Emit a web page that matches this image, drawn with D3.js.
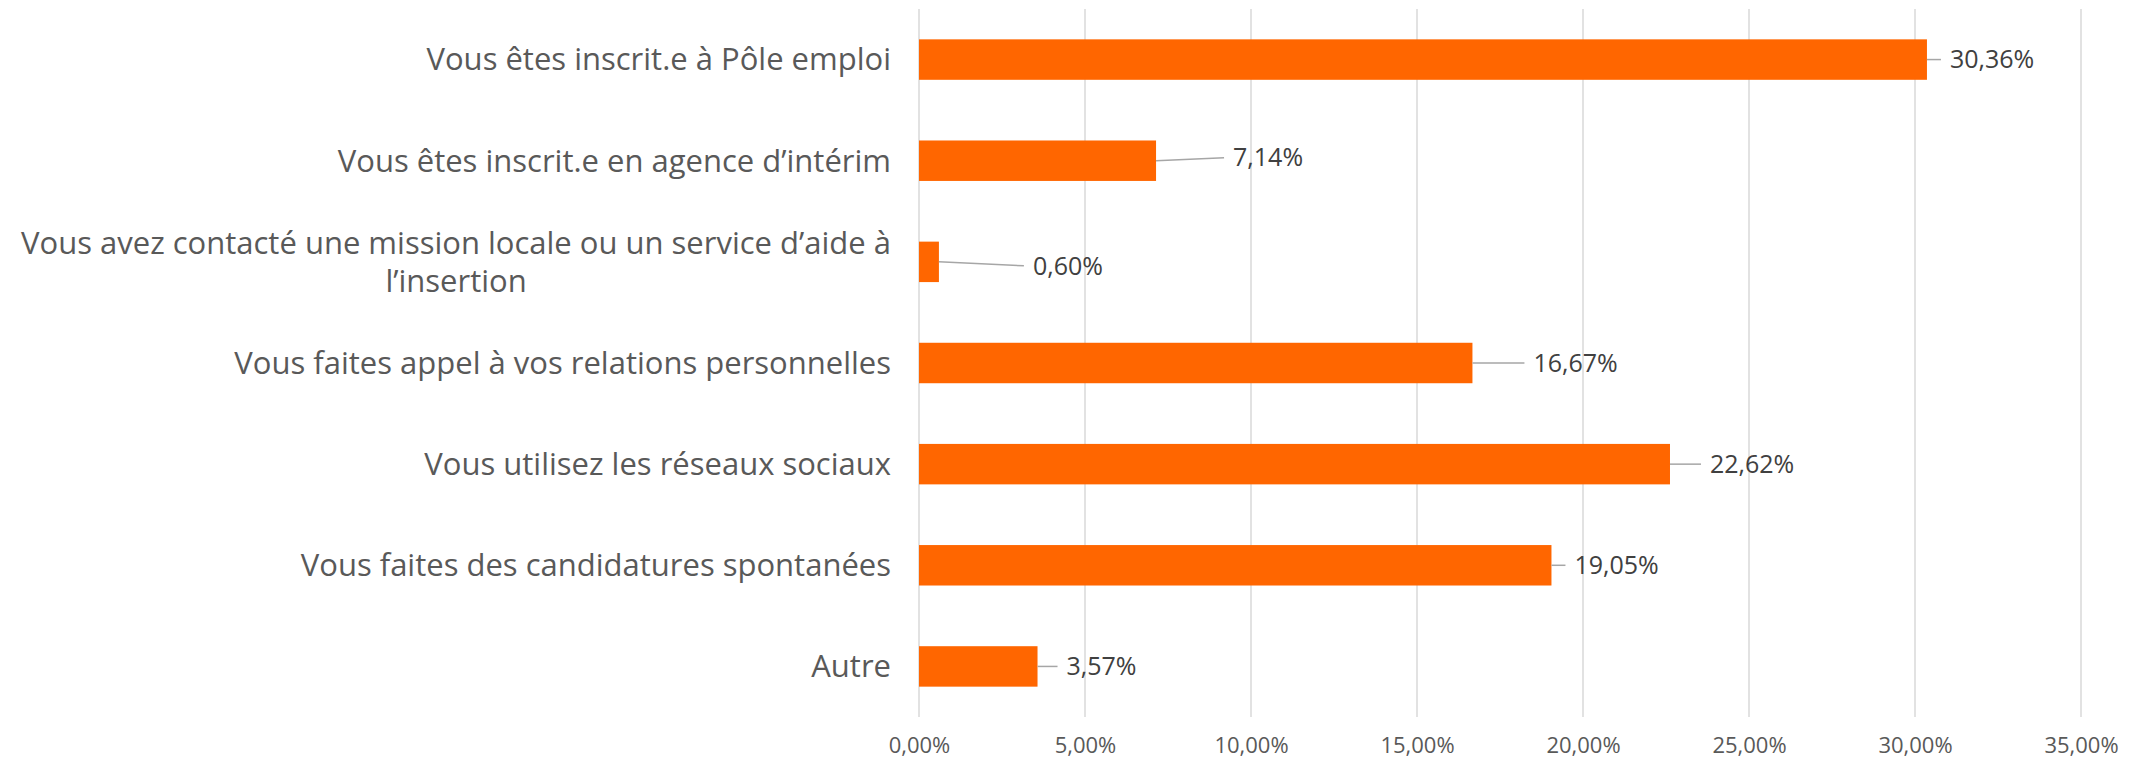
<!DOCTYPE html>
<html>
<head>
<meta charset="utf-8">
<script src="https://cdn.jsdelivr.net/npm/d3@7"></script>
<style>
  html, body { margin: 0; padding: 0; background: #fff; }
  svg { display: block; }
</style>
</head>
<body>
<svg id="chart" width="2137" height="762"></svg>
<script>
const categories = [
  "Vous êtes inscrit.e à Pôle emploi",
  "Vous êtes inscrit.e en agence d’intérim",
  "Vous avez contacté une mission locale ou un service d’aide à\nl’insertion",
  "Vous faites appel à vos relations personnelles",
  "Vous utilisez les réseaux sociaux",
  "Vous faites des candidatures spontanées",
  "Autre"
];
const values = [30.36, 7.14, 0.60, 16.67, 22.62, 19.05, 3.57];
const tickValues = [0, 5, 10, 15, 20, 25, 30, 35];

// label placement (layout, not data): horizontal distance from bar end to label start, and vertical shift
const labelGap = [23, 77, 94, 61, 40, 23, 29];
const labelShift = [0, -3, 4, 0, 0, 0, 0];

const svg = d3.select("#chart");
const margin = {left: 919, right: 56, top: 9, bottom: 45};
const W = 2137, H = 762;

const x = d3.scaleLinear().domain([0, 35]).range([margin.left, W - margin.right]);
const y = d3.scaleBand().domain(categories).range([margin.top, H - margin.bottom]).paddingInner(0.6).paddingOuter(0.3);

const fmt = v => d3.format(".2f")(v).replace(".", ",") + "%";

// gridlines
svg.append("g").selectAll("line").data(tickValues).join("line")
  .attr("x1", d => x(d)).attr("x2", d => x(d))
  .attr("y1", margin.top).attr("y2", H - margin.bottom)
  .attr("stroke", "#d9d9d9").attr("stroke-width", 1.5);

// x axis labels
const xAxis = d3.axisBottom(x).tickValues(tickValues).tickFormat(d => fmt(d)).tickSize(0).tickPadding(20);
const gx = svg.append("g").attr("transform", `translate(0,${H - margin.bottom})`).call(xAxis);
gx.select(".domain").remove();
gx.selectAll("text").attr("font-family", "Open Sans").attr("font-size", 22).attr("fill", "#595959");

// bars
svg.append("g").selectAll("rect").data(values).join("rect")
  .attr("x", x(0))
  .attr("y", (d, i) => y(categories[i]))
  .attr("width", d => x(d) - x(0))
  .attr("height", y.bandwidth())
  .attr("fill", "#ff6600");

// leader lines + value labels
const lab = svg.append("g");
values.forEach((v, i) => {
  const cy = y(categories[i]) + y.bandwidth() / 2;
  const x0 = x(v), x1 = x(v) + labelGap[i];
  lab.append("line")
    .attr("x1", x0).attr("y1", cy)
    .attr("x2", x1 - 9).attr("y2", cy + labelShift[i])
    .attr("stroke", "#a6a6a6").attr("stroke-width", 1.5);
  lab.append("text")
    .attr("x", x1).attr("y", cy + labelShift[i])
    .attr("dy", "0.35em")
    .attr("font-family", "Open Sans").attr("font-size", 25)
    .attr("fill", "#404040")
    .text(fmt(v));
});

// category labels
const cat = svg.append("g");
categories.forEach((c, i) => {
  const lines = c.split("\n");
  const cy = y(c) + y.bandwidth() / 2;
  const lh = 38;
  const t = cat.append("text")
    .attr("text-anchor", "middle")
    .attr("font-family", "Open Sans").attr("font-size", 31)
    .attr("fill", "#595959");
  lines.forEach((ln, j) => {
    t.append("tspan")
      .attr("x", 0)
      .attr("y", cy + (j - (lines.length - 1) / 2) * lh)
      .attr("dy", "0.35em")
      .text(ln);
  });
  // right edge of the label block at x = 891 (multi-line centered like the reference)
  const bb = t.node().getBBox();
  t.attr("transform", `translate(${891 - bb.width / 2},0)`);
});
</script>
</body>
</html>
